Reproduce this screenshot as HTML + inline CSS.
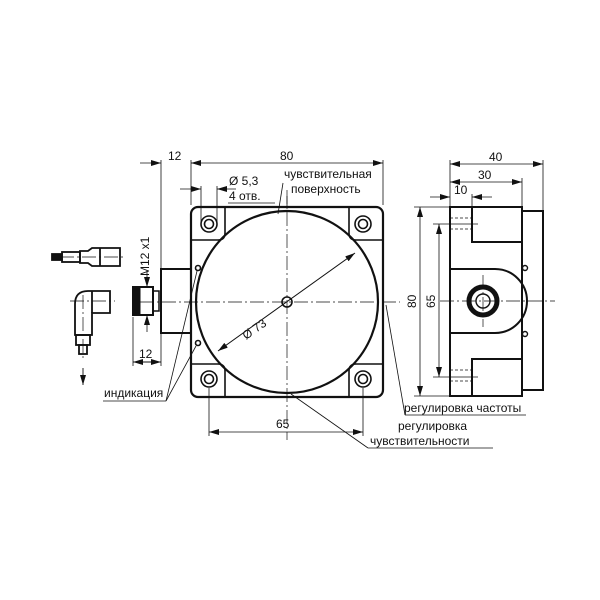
<!DOCTYPE html>
<html><head><meta charset="utf-8"><style>
html,body{margin:0;padding:0;background:#fff}
svg{display:block}
text{font-family:"Liberation Sans","DejaVu Sans",sans-serif;font-size:12px;fill:#111}
</style></head><body>
<svg width="600" height="600" viewBox="0 0 600 600" xmlns="http://www.w3.org/2000/svg">
<defs>
<marker id="a" viewBox="0 0 10 6" refX="10" refY="3" markerWidth="10" markerHeight="6" orient="auto-start-reverse" markerUnits="userSpaceOnUse"><path d="M0,0L10,3L0,6z" fill="#111"/></marker>
</defs>
<g stroke="#111" fill="none">
<g stroke-width="0.7" stroke-dasharray="14,3,2,3">
<line x1="140" y1="302" x2="400" y2="302"/>
<line x1="287" y1="190" x2="287" y2="440"/>
<line x1="440" y1="301" x2="555" y2="301"/>
<line x1="483" y1="275" x2="483" y2="327"/>
<line x1="60" y1="257" x2="125" y2="257"/>
<line x1="70" y1="301" x2="115" y2="301"/>
<line x1="83" y1="295" x2="83" y2="360"/>
</g>
<rect x="191" y="207" width="192" height="190" rx="7" stroke-width="2.2"/>
<g stroke-width="1.6">
<path d="M191,240 H218 Q225,240 225,233 V207"/>
<path d="M383,240 H356 Q349,240 349,233 V207"/>
<path d="M191,364 H218 Q225,364 225,371 V397"/>
<path d="M383,364 H356 Q349,364 349,371 V397"/>
</g>
<circle cx="287" cy="302" r="91" stroke-width="2.2"/>
<circle cx="287" cy="302" r="5" stroke-width="1.6"/>
<g stroke-width="1.6">
<circle cx="209" cy="224" r="8"/><circle cx="209" cy="224" r="4.5"/>
<circle cx="363" cy="224" r="8"/><circle cx="363" cy="224" r="4.5"/>
<circle cx="209" cy="379" r="8"/><circle cx="209" cy="379" r="4.5"/>
<circle cx="363" cy="379" r="8"/><circle cx="363" cy="379" r="4.5"/>
<circle cx="198" cy="268" r="2.5"/><circle cx="198" cy="343" r="2.5"/>
</g>
<rect x="161" y="269" width="30" height="64" stroke-width="2"/>
<rect x="133" y="287" width="20" height="28" stroke-width="2"/>
<rect x="133" y="287" width="7" height="28" fill="#111"/>
<rect x="153" y="291" width="6" height="20" stroke-width="1.5"/>
<g stroke-width="0.8">
<line x1="161" y1="160" x2="161" y2="366"/>
<line x1="191" y1="160" x2="191" y2="205"/>
<line x1="383" y1="160" x2="383" y2="205"/>
<line x1="191" y1="163" x2="383" y2="163" marker-start="url(#a)" marker-end="url(#a)"/>
<line x1="140" y1="163" x2="161" y2="163" marker-end="url(#a)"/>
<line x1="191" y1="163" x2="200" y2="163"/>
<line x1="201" y1="186" x2="201" y2="222"/>
<line x1="217" y1="186" x2="217" y2="222"/>
<line x1="180" y1="189" x2="201" y2="189" marker-end="url(#a)"/>
<line x1="236" y1="189" x2="217" y2="189" marker-end="url(#a)"/>
<line x1="228" y1="203" x2="275" y2="203"/>
<line x1="209" y1="388" x2="209" y2="436"/>
<line x1="363" y1="388" x2="363" y2="436"/>
<line x1="209" y1="432" x2="363" y2="432" marker-start="url(#a)" marker-end="url(#a)"/>
<line x1="133" y1="317" x2="133" y2="366"/>
<line x1="133" y1="362" x2="161" y2="362" marker-start="url(#a)" marker-end="url(#a)" stroke-width="1"/>
<line x1="147" y1="270" x2="147" y2="287" marker-end="url(#a)"/>
<line x1="147" y1="332" x2="147" y2="315" marker-end="url(#a)"/>
<line x1="218" y1="351" x2="355" y2="253" marker-start="url(#a)" marker-end="url(#a)" stroke-width="1"/>
<line x1="287" y1="196" x2="287" y2="207"/>
<line x1="103" y1="401" x2="166" y2="401"/>
<line x1="166" y1="401" x2="197" y2="271"/>
<line x1="166" y1="401" x2="196" y2="346"/>
<line x1="283" y1="183" x2="278" y2="214"/>
<line x1="386" y1="305" x2="405" y2="415"/>
<line x1="405" y1="415" x2="526" y2="415"/>
<line x1="291" y1="394" x2="368" y2="448"/>
<line x1="368" y1="448" x2="493" y2="448"/>
</g>
<g stroke-width="1.8">
<rect x="52" y="254" width="10" height="6" fill="#111"/>
<rect x="62" y="252" width="18" height="10"/>
<path d="M80,251 H88 L92,248 H120 V266 H92 L88,263 H80 Z"/>
<line x1="100" y1="248" x2="100" y2="266"/>
<path d="M110,291 H88 Q75,291 75,304 V335 H92 V313 H110 Z"/>
<line x1="92" y1="291" x2="92" y2="313"/>
<rect x="76" y="335" width="14" height="10"/>
<rect x="79" y="345" width="8" height="9"/>
</g>
<line x1="83" y1="368" x2="83" y2="385" stroke-width="0.9" marker-end="url(#a)"/>
<g stroke-width="2">
<rect x="450" y="207" width="72" height="189"/>
<rect x="522" y="211" width="21" height="179"/>
<path d="M472,207 V242 H522"/>
<path d="M472,396 V359 H522"/>
<path d="M450,269 H495 A32,32 0 0 1 495,333 H450"/>
<circle cx="483" cy="301" r="14" stroke-width="5"/>
</g>
<g stroke-width="1.4">
<circle cx="483" cy="301" r="7"/>
<circle cx="525" cy="268" r="2.5"/><circle cx="525" cy="334" r="2.5"/>
</g>
<g stroke-width="0.8">
<g stroke-dasharray="3,2"><line x1="450" y1="218" x2="472" y2="218"/><line x1="450" y1="229" x2="472" y2="229"/><line x1="450" y1="370" x2="472" y2="370"/><line x1="450" y1="381" x2="472" y2="381"/></g>
<line x1="433" y1="224" x2="478" y2="224"/><line x1="433" y1="377" x2="478" y2="377"/>
<line x1="414" y1="207" x2="450" y2="207"/><line x1="414" y1="396" x2="450" y2="396"/>
<line x1="420" y1="207" x2="420" y2="396" marker-start="url(#a)" marker-end="url(#a)"/>
<line x1="439" y1="224" x2="439" y2="377" marker-start="url(#a)" marker-end="url(#a)"/>
<line x1="450" y1="160" x2="450" y2="207"/>
<line x1="543" y1="160" x2="543" y2="211"/>
<line x1="522" y1="178" x2="522" y2="207"/>
<line x1="472" y1="194" x2="472" y2="207"/>
<line x1="450" y1="164" x2="543" y2="164" marker-start="url(#a)" marker-end="url(#a)"/>
<line x1="450" y1="182" x2="522" y2="182" marker-start="url(#a)" marker-end="url(#a)"/>
<line x1="430" y1="197" x2="450" y2="197" marker-end="url(#a)"/>
<line x1="492" y1="197" x2="472" y2="197" marker-end="url(#a)"/>
</g>
</g>
<text x="168" y="160">12</text>
<text x="280" y="160">80</text>
<text x="229" y="185">Ø 5,3</text>
<text x="229" y="200">4 отв.</text>
<text x="284" y="178">чувствительная</text>
<text x="291" y="193">поверхность</text>
<text x="139" y="358">12</text>
<text transform="translate(149,276) rotate(-90)">M12 x1</text>
<text transform="translate(246,340) rotate(-35)">Ø 73</text>
<text x="104" y="397">индикация</text>
<text x="276" y="428">65</text>
<text x="489" y="161">40</text>
<text x="478" y="179">30</text>
<text x="454" y="194">10</text>
<text transform="translate(416,308) rotate(-90)">80</text>
<text transform="translate(435,308) rotate(-90)">65</text>
<text x="404" y="412">регулировка частоты</text>
<text x="398" y="430">регулировка</text>
<text x="370" y="445">чувствительности</text>
</svg>
</body></html>
